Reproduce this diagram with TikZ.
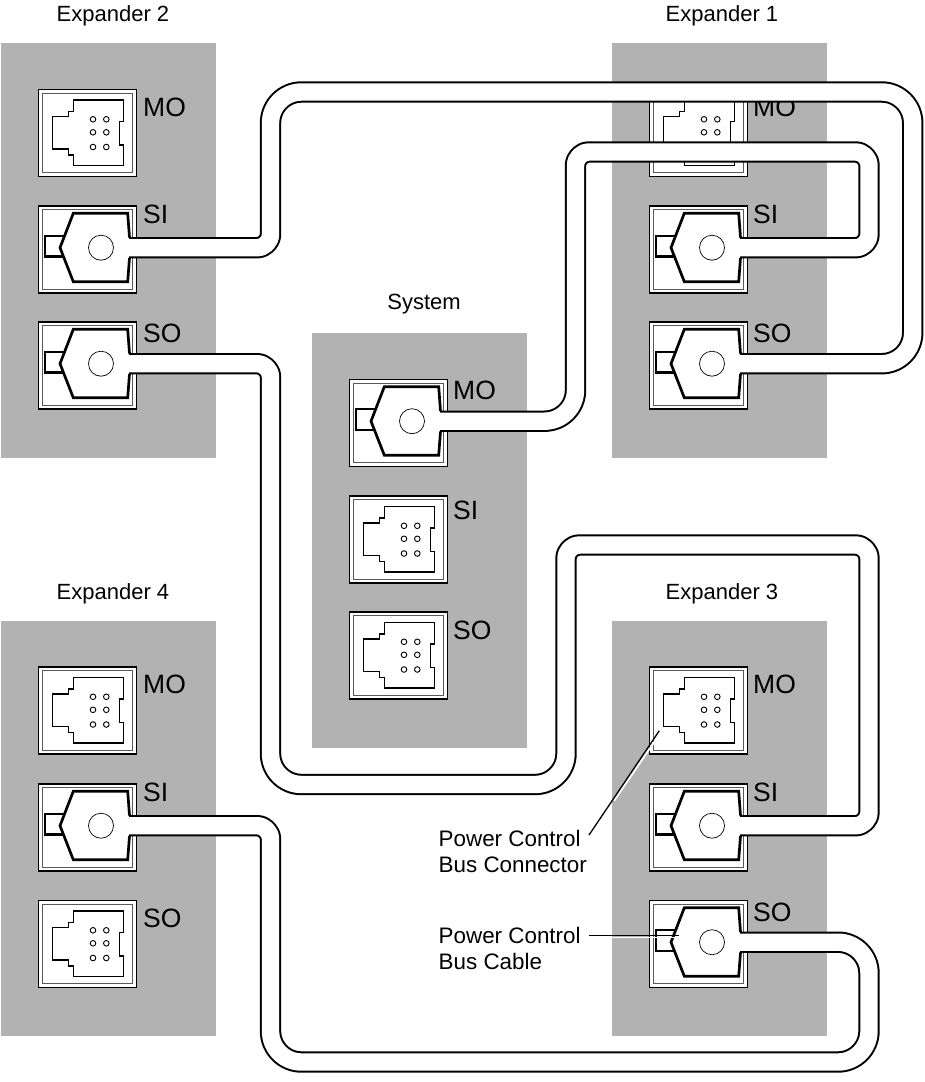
\documentclass[tikz,border=0pt]{standalone}
\usepackage{fontspec}
\setmainfont{Liberation Sans}
\definecolor{panelgray}{HTML}{B2B2B2}
\tikzset{
  panel/.style={fill=panelgray,draw=none},
  title/.style={font=\fontsize{22}{26}\selectfont,inner sep=0pt},
  plabel/.style={font=\fontsize{26.5}{30}\selectfont,inner sep=0pt,anchor=west},
  note/.style={font=\fontsize{22.4}{26}\selectfont,inner sep=0pt,anchor=west,align=left},
  cable/.style={draw=black,line width=2pt,double=white,double distance=17.4pt,line join=round},
  plugline/.style={line width=2.7pt,line join=miter,miter limit=2},
  leader/.style={line width=1.3pt},
  halo/.style={draw=white,line width=1.8pt}
}
\newcommand{\portbox}[2]{%
  \begin{scope}[shift={(#1,#2)}]
    \fill[white] (0,0) rectangle (98,87);
    \draw[line width=1.9pt] (0,0) rectangle (98,87);
    \draw[line width=.9pt,black!65] (3.8,3.8) rectangle (94.2,83.2);
  \end{scope}}
\newcommand{\socket}[2]{%
  \portbox{#1}{#2}
  \begin{scope}[shift={(#1,#2)}]
    \draw[line width=1.5pt] (34.8,10.5) -- (84.8,10.5) -- (84.8,32.2) -- (80.8,32.2) -- (80.8,55.5) -- (84.8,55.5) -- (84.8,76.2) -- (34.8,76.2) -- (34.8,65.5) -- (29.8,65.5) -- (29.8,59.5) -- (14.2,59.5) -- (14.2,27.2) -- (29.8,27.2) -- (29.8,22.2) -- (34.8,22.2) -- cycle;
    \foreach \hx in {54.5,67.8} \foreach \hy in {29.8,42.8,57.5}
      \draw[line width=.9pt] (\hx,\hy) circle[radius=2.8];
  \end{scope}}
\newcommand{\plug}[3]{%
  \portbox{#1}{#2}
  \begin{scope}[shift={(#1,#2)}]
    \coordinate (#3) at (90.5,41.7);
    \draw[line width=2.4pt] (26,29.7) -- (6.5,29.7) -- (6.5,50.3) -- (26,50.3);
    \fill[white] (91,31) -- (89.2,7.3) -- (34.8,7.3) -- (21.5,41.7) -- (34.8,75.7) -- (89.2,75.7) -- (91,52) -- cycle;
    \draw[plugline] (91,31.5) -- (89.2,7.3) -- (34.8,7.3) -- (21.5,41.7) -- (34.8,75.7) -- (89.2,75.7) -- (91,52);
    \draw[line width=.7pt] (62.5,41.7) circle[radius=12.5];
  \end{scope}}
\begin{document}
\begin{tikzpicture}[x=1pt,y=-1pt]
\useasboundingbox (0,0) rectangle (924,1082);
% panels
\fill[panel] (1,43) rectangle (216,458);
\fill[panel] (612,43) rectangle (827,458);
\fill[panel] (312,333) rectangle (527,748);
\fill[panel] (1,621) rectangle (216,1036);
\fill[panel] (612,621) rectangle (827,1036);
% titles
\node[title] (t2) at (113,16) {Expander 2};
\node[title] (t1) at (722,16) {Expander 1};
\node[title] (ts) at (424,304) {System};
\node[title] (t4) at (113,594) {Expander 4};
\node[title] (t3) at (722,594) {Expander 3};
% Expander 2
\socket{38.5}{89.5}
\plug{38.5}{206}{e2si}
\plug{38.5}{322}{e2so}
\node[plabel] (l2mo) at (143,107) {MO};
\node[plabel] (l2si) at (143,214) {SI};
\node[plabel] (l2so) at (143,333) {SO};
% Expander 1
\socket{649.5}{89.5}
\plug{649.5}{206}{e1si}
\plug{649.5}{322}{e1so}
\node[plabel] (l1mo) at (753,107) {MO};
\node[plabel] (l1si) at (753,214) {SI};
\node[plabel] (l1so) at (753,333) {SO};
% System
\plug{349.5}{379.5}{smo}
\socket{349.5}{496}
\socket{349.5}{612}
\node[plabel] (lsmo) at (453,390) {MO};
\node[plabel] (lssi) at (453,510) {SI};
\node[plabel] (lsso) at (453,630) {SO};
% Expander 4
\socket{38.5}{667}
\plug{38.5}{784}{e4si}
\socket{38.5}{900.5}
\node[plabel] (l4mo) at (143,684) {MO};
\node[plabel] (l4si) at (143,792) {SI};
\node[plabel] (l4so) at (143,918) {SO};
% Expander 3
\socket{649.5}{667}
\plug{649.5}{784}{e3si}
\plug{649.5}{900.5}{e3so}
\node[plabel] (l3mo) at (753,684) {MO};
\node[plabel] (l3si) at (753,792) {SI};
\node[plabel] (l3so) at (753,912) {SO};
% cables
\draw[cable] (e2si) [rounded corners=13.5pt] -- (270.5,247.7) [rounded corners=31pt] -- (270.5,92) -- (912.7,92) -- (912.7,363.7) -- (e1so);
\draw[cable] (smo) [rounded corners=31pt] -- (575.5,421.2) [rounded corners=13.5pt] -- (575.5,152) -- (869,152) -- (869,247.7) -- (e1si);
\draw[cable] (e2so) [rounded corners=13.5pt] -- (270.5,363.7) [rounded corners=31pt] -- (270.5,784.5) -- (566,784.5) [rounded corners=13.5pt] -- (566,545) -- (869,545) -- (869,825.7) -- (e3si);
\draw[cable] (e4si) [rounded corners=13.5pt] -- (270.5,825.7) [rounded corners=31pt] -- (270.5,1062) -- (869,1062) -- (869,942.2) -- (e3so);
% notes
\node[note] (nc) at (438.5,851) {Power Control\\Bus Connector};
\node[note] (nb) at (438.5,948) {Power Control\\Bus Cable};
\coordinate (ncs) at (589,835);
\coordinate (nce) at (659.3,730.7);
\coordinate (nbs) at (589,935.7);
\coordinate (nbe) at (679,935.7);
\draw[halo] (614.2,800.6) -- (661.4,731.6);
\draw[leader] (ncs) -- (nce);
\draw[halo] (612,937.4) -- (679,937.4);
\draw[leader] (nbs) -- (nbe);
\end{tikzpicture}
\end{document}
